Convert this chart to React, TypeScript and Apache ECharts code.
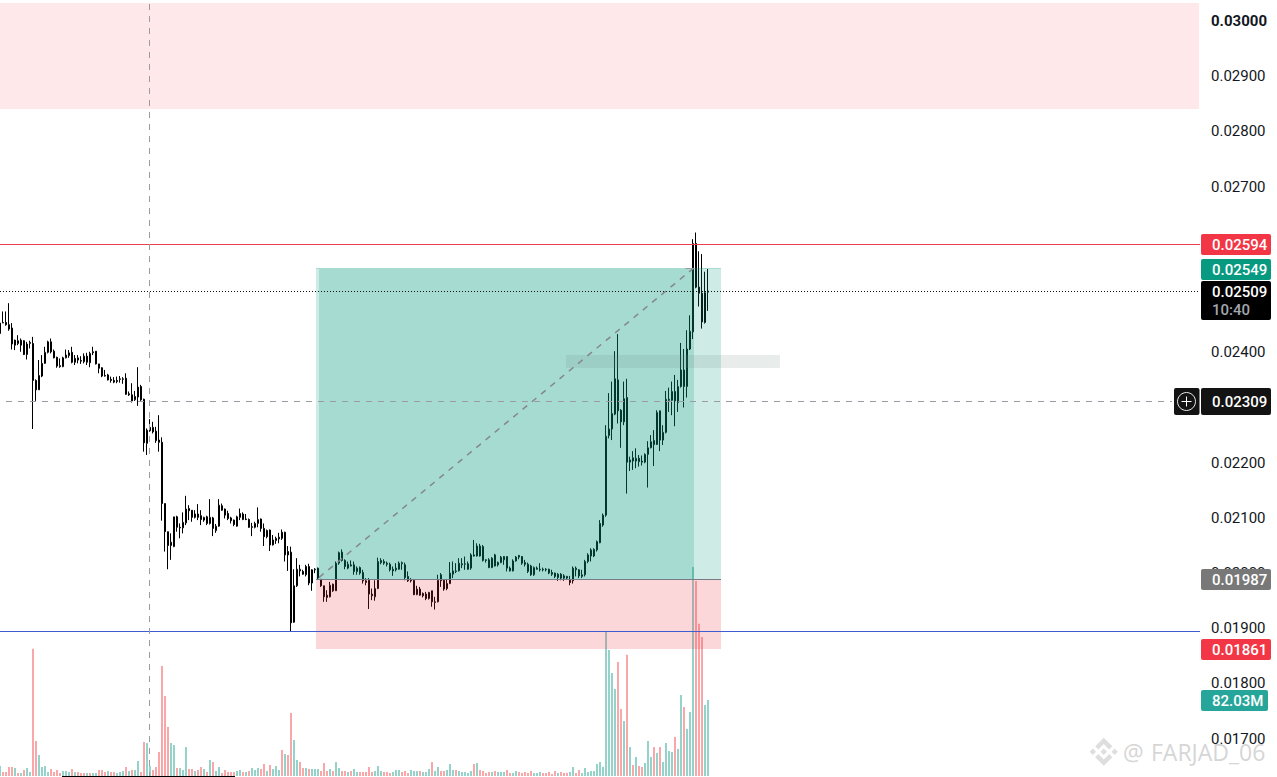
import React, { useEffect, useRef } from "react";
import * as echarts from "echarts";

// Prices in units of 0.00001
const opens = [
  2432,2451,2452,2448,2442,2420,2414,2420,2419,2394,
  2414,2414,2347,2330,2355,2378,2398,2417,2400,2389,
  2372,2372,2388,2392,2398,2387,2384,2383,2381,2391,
  2379,2397,2400,2377,2370,2356,2357,2349,2347,2347,
  2349,2349,2351,2323,2321,2312,2317,2336,2313,2233,
  2262,2262,2255,2239,2235,2124,2073,2048,2046,2100,
  2081,2080,2089,2115,2112,2099,2105,2102,2094,2100,
  2088,2098,2075,2083,2120,2114,2106,2098,2094,2083,
  2099,2095,2096,2095,2082,2081,2088,2096,2079,2075,
  2076,2049,2057,2060,2072,2072,2037,2036,1909,1975,
  2002,2001,1995,2010,1980,2004,2007,1987,1975,1958,
  1955,1978,1966,2016,2036,2021,2007,2011,2013,2007,
  2008,1999,1981,1985,1960,1955,1970,2021,2019,2016,
  2014,2005,2004,2005,2015,2013,1992,1985,1985,1959,
  1969,1961,1960,1952,1966,1946,1946,1995,1985,1979,
  1979,1996,2001,2002,2013,2014,2015,2007,2029,2047,
  2029,2046,2022,2022,2008,2031,2017,2017,2022,2028,
  2007,2002,2020,2027,2028,2017,2014,2011,1995,2005,
  2005,2005,2005,2005,1999,1998,1990,1996,1993,1992,
  1985,1984,2004,2004,1992,1995,2019,2029,2029,2040,
  2053,2085,2103,2247,2259,2286,2348,2293,2272,2316,
  2199,2201,2201,2206,2199,2199,2213,2225,2238,2231,
  2292,2239,2253,2311,2311,2327,2307,2336,2366,2336,
  2404,2435,2595,2516,2505,2452,2507,
];
const closes = [
  2451,2452,2448,2440,2413,2411,2419,2411,2394,2413,
  2416,2347,2330,2356,2378,2398,2417,2399,2388,2373,
  2374,2388,2393,2397,2380,2380,2388,2382,2391,2380,
  2396,2399,2377,2369,2355,2355,2348,2347,2344,2345,
  2350,2350,2322,2321,2310,2318,2335,2312,2234,2257,
  2256,2254,2238,2235,2124,2073,2048,2054,2100,2081,
  2080,2090,2114,2111,2099,2105,2099,2095,2099,2088,
  2099,2079,2083,2121,2112,2103,2097,2093,2086,2100,
  2106,2105,2095,2081,2081,2088,2095,2079,2064,2064,
  2049,2058,2061,2063,2061,2031,2031,1908,1975,2005,
  2005,1996,2010,1980,2004,2005,1989,1975,1955,1954,
  1976,1966,2016,2035,2021,2010,2014,2013,2001,2001,
  1998,1984,1984,1960,1957,1970,2019,2017,2016,2014,
  2004,2002,2007,2016,2017,1990,1984,1984,1959,1969,
  1958,1957,1952,1963,1946,1945,1985,1984,1969,1970,
  1998,2002,2002,2016,2015,2015,2005,2031,2031,2029,
  2047,2021,2021,2008,2025,2011,2013,2027,2028,2007,
  2002,2020,2027,2030,2016,2014,2001,1995,2008,2007,
  2004,2004,2004,1998,1996,1992,1996,1989,1989,1989,
  1981,2007,2007,1993,1995,2019,2031,2040,2041,2055,
  2088,2103,2246,2259,2287,2350,2292,2272,2314,2199,
  2203,2207,2206,2200,2201,2213,2225,2236,2231,2289,
  2239,2253,2313,2313,2327,2310,2336,2366,2336,2404,
  2436,2595,2516,2505,2453,2506,2509,
];
const lows = [
  2420,2451,2446,2437,2403,2402,2411,2399,2393,2385,
  2405,2259,2310,2330,2353,2377,2396,2396,2387,2370,
  2370,2371,2387,2388,2378,2375,2378,2377,2378,2375,
  2371,2393,2376,2360,2353,2354,2347,2343,2342,2342,
  2343,2341,2321,2319,2307,2310,2301,2310,2218,2212,
  2254,2251,2234,2218,2093,2037,2005,2022,2045,2073,
  2061,2070,2085,2094,2091,2097,2094,2085,2091,2085,
  2086,2065,2071,2082,2111,2097,2094,2088,2083,2082,
  2094,2094,2094,2080,2065,2079,2081,2073,2047,2061,
  2038,2048,2051,2052,2058,2019,2002,1892,1908,1973,
  1992,1995,1992,1976,1966,1998,1987,1973,1946,1946,
  1954,1964,1966,2013,2019,2005,2005,2010,1995,1995,
  1995,1979,1976,1933,1949,1948,1969,2014,2013,2010,
  2001,1993,2001,2004,2004,1985,1982,1981,1958,1958,
  1957,1954,1949,1950,1937,1932,1945,1973,1966,1967,
  1978,1989,1998,2001,2007,2004,2004,2004,2028,2028,
  2028,2019,2017,2007,2007,2010,2010,2016,2013,2001,
  2001,2001,2019,2023,2013,2010,1998,1993,1993,2004,
  2001,2001,2001,1996,1993,1989,1984,1985,1984,1987,
  1976,1979,1992,1989,1989,1992,2016,2019,2027,2037,
  2052,2082,2100,2242,2239,2284,2269,2225,2266,2142,
  2183,2185,2188,2191,2193,2197,2153,2224,2192,2230,
  2219,2230,2251,2290,2284,2264,2290,2334,2298,2316,
  2402,2422,2514,2481,2441,2450,2473,
];
const highs = [
  2460,2472,2472,2487,2451,2421,2429,2423,2420,2417,
  2419,2426,2349,2384,2393,2408,2419,2423,2403,2390,
  2387,2390,2403,2402,2408,2393,2393,2391,2396,2397,
  2399,2408,2400,2377,2371,2366,2359,2354,2353,2354,
  2355,2353,2360,2327,2342,2328,2371,2339,2314,2260,
  2277,2272,2263,2284,2244,2124,2073,2070,2100,2102,
  2088,2108,2138,2121,2112,2112,2123,2112,2100,2102,
  2132,2100,2087,2132,2124,2115,2111,2100,2095,2102,
  2115,2108,2105,2097,2089,2091,2117,2097,2088,2077,
  2077,2067,2064,2071,2077,2073,2047,2046,2005,2025,
  2013,2004,2013,2015,2005,2007,2008,1987,1975,1967,
  1982,1979,2019,2037,2041,2023,2019,2021,2019,2010,
  2010,2004,1989,1989,1970,1985,2026,2025,2023,2019,
  2017,2010,2016,2019,2019,2017,2001,1989,1987,1975,
  1973,1963,1964,1964,1966,1955,1995,1998,1987,1987,
  2018,2019,2016,2025,2025,2028,2019,2034,2058,2052,
  2051,2049,2023,2025,2027,2033,2019,2029,2029,2028,
  2010,2023,2029,2031,2029,2022,2017,2013,2010,2010,
  2016,2008,2007,2006,2004,1999,1998,1998,1996,1993,
  1993,2010,2010,2005,2004,2022,2034,2043,2043,2057,
  2094,2106,2266,2324,2345,2400,2431,2295,2345,2350,
  2209,2219,2224,2212,2211,2215,2237,2248,2257,2293,
  2292,2266,2328,2334,2345,2357,2348,2415,2404,2438,
  2465,2603,2615,2581,2576,2544,2549,
];
// Volume in millions
const volumes = [
  10.8,4.3,4.3,9.7,9.7,8.6,3.2,3.2,6.5,8.6,
  4.3,137.2,37.8,22.7,9.7,10.8,4.3,7.6,4.3,6.5,
  3.2,5.4,5.4,4.3,7.6,4.3,4.3,3.2,3.2,3.2,
  3.2,3.2,3.2,6.5,6.5,4.3,5.4,4.3,4.3,3.2,
  4.3,5.4,9.7,5.4,6.5,6.5,16.2,4.3,36.7,35.6,
  10.8,6.5,9.7,25.9,118.8,86.4,52.9,35.6,33.5,8.6,
  8.6,6.5,31.3,7.6,7.6,5.4,6.5,9.7,7.6,4.3,
  17.3,15.1,5.4,9.7,3.2,6.5,4.3,4.3,4.3,5.4,
  6.5,4.3,4.3,5.4,8.6,6.5,8.6,7.6,13,5.4,
  11.9,7.6,10.8,6.5,28.1,23.8,22.7,68,38.9,17.3,
  15.1,8.6,8.6,7.6,7.6,7.6,7.6,5.4,14,5.4,
  7.6,5.4,15.1,8.6,5.4,5.4,4.3,5.4,7.6,4.3,
  4.3,4.3,4.3,9.7,4.3,5.4,10.8,5.4,4.3,4.3,
  3.2,4.3,6.5,6.5,4.3,5.4,3.2,6.5,5.4,5.4,
  5.4,4.3,4.3,7.6,15.1,5.4,9.7,5.4,5.4,6.5,
  13,6.5,6.5,5.4,4.3,4.3,3.2,5.4,13,14,
  6.5,5.4,3.2,4.3,4.3,5.4,4.3,4.3,4.3,6.5,
  3.2,3.2,5.4,4.3,3.2,4.3,3.2,5.4,3.2,3.2,
  4.3,3.2,3.2,4.3,2.2,5.4,3.2,4.3,3.2,3.2,
  4.3,9.7,3.2,6.5,3.2,8.6,4.3,5.4,5.4,13,
  15.1,10,156.2,136,111.2,94,123,72.4,59.4,130.7,
  31.3,11.9,20.5,10.8,9.7,14,37.8,20.5,31.3,24.8,
  31.3,15.1,35.6,27,25.9,42.1,29.2,87.5,74.5,50.8,
  69.1,225.5,210.4,164.2,150.1,76.7,82.03,
];
// 1 = buying volume (teal), 0 = selling volume (red)
const volumeUp = [
  1,0,0,0,0,1,0,1,0,1,
  1,0,0,1,1,1,1,0,0,0,
  0,1,1,1,0,1,0,0,0,1,
  0,1,1,0,0,0,1,0,0,1,
  1,1,0,1,0,1,1,0,0,1,
  1,0,0,0,0,0,0,1,1,0,
  1,1,1,0,0,1,0,0,1,0,
  1,0,1,1,0,0,0,0,0,1,
  1,0,1,0,1,1,1,0,0,1,
  0,1,1,1,0,1,0,0,1,1,
  0,0,1,0,1,1,1,0,0,0,
  1,0,1,1,0,0,1,0,1,1,
  0,0,0,0,0,1,1,1,0,0,
  0,1,1,1,0,0,0,1,1,1,
  0,1,1,1,0,1,1,0,0,1,
  1,1,0,1,1,1,1,1,0,1,
  0,0,0,0,1,0,1,1,1,0,
  0,1,1,0,0,0,0,0,1,1,
  1,0,0,0,0,0,1,0,0,0,
  1,1,0,0,1,1,1,1,1,1,
  1,1,1,1,1,1,0,0,1,0,
  1,0,1,0,0,1,1,1,0,1,
  0,1,1,1,1,0,1,1,0,1,
  1,1,0,0,0,1,1,
];
const categories = Array.from({ length: 401 }, (_, i) => String(i));

// Position-tool zones: bar-index span and price span
const zoneStart = [0, 105.33, 106.33, 105.33, 188.67];
const zoneEnd = [399.67, 240.33, 231.33, 240.33, 260];
const zoneTop = [3031, 2549, 2549, 1987, 2393];
const zoneBottom = [2839, 1987, 1987, 1861, 2369.5];
const zoneFill = [
  "#fee8e9",
  "rgba(8,153,129,0.2)",
  "rgba(8,153,129,0.2)",
  "rgba(242,54,69,0.2)",
  "rgba(110,145,135,0.16)",
];

// Horizontal price levels
const levelPrices = [2594, 1892, 2509, 1987, 2549, 2550];
const levelStart = [0, 0, 0, 105.33, 105.33, 228.5];
const levelEnd = [400, 400, 400, 240.33, 240.33, 231.33];
const levelColor = ["#e8404c", "#3f5cd0", "#111111", "#787b86", "rgba(8,153,129,0.35)", "#9a9ca3"];
const levelDash: (number[] | undefined)[] = [undefined, undefined, [1, 2], undefined, undefined, undefined];

// Diagonal of the position tool
const diagonalX = [106.33, 231.33];
const diagonalP = [1990, 2551];

const crossX = 49.83;
const crossP = 2309;
const tickedAxisMin = 0.016;
const tickedAxisMax = 0.031;
// Round levels that sit behind a price tag or off the page
const hiddenTicks = [0.031, 0.026, 0.025, 0.023, 0.016];
const BINANCE =
  "M38.73 53.2L64 27.93l25.28 25.28 14.7-14.7L64-1.47 24.03 38.5zM-1.47 64l14.7-14.7L27.93 64l-14.7 14.7zM38.73 74.8L64 100.07l25.28-25.27 14.7 14.7L64 129.47 24.03 89.5zM100.07 64l14.7-14.7 14.7 14.7-14.7 14.7zM78.91 64L64 49.09 49.09 64 64 78.91z";

echarts.graphic.registerShape("binance", echarts.graphic.extendPath(BINANCE, {}) as any);

const px = (v: number) => v / 1e5;
const crisp = (v: number) => Math.floor(v) + 0.5;
const FONT = "Roboto";

function tag(top: number, height: number, fill: string, label: string, right = 1271) {
  return [
    { type: "rect", z: 200, shape: { x: 1201, y: top, width: right - 1201, height, r: 2 }, style: { fill } },
    {
      type: "text",
      z: 201,
      style: {
        x: 1212,
        y: top + height / 2 + 0.5,
        text: label,
        fill: "#ffffff",
        font: `500 15px ${FONT}`,
        verticalAlign: "middle",
        align: "left",
      },
    },
  ];
}

export default function App() {
  const ref = useRef<HTMLDivElement>(null);
  useEffect(() => {
    document.body.style.margin = "0";
    const chart = echarts.init(ref.current!, undefined, { renderer: "svg" });
    const candleData = opens.map((o, i) => [px(o), px(closes[i]), px(lows[i]), px(highs[i])]);
    const volumeData = volumes.map((v, i) => ({
      value: v,
      itemStyle: { color: volumeUp[i] ? "#93d3c9" : "#faa7a9" },
    }));
    const zoneRows = (idx: number[]) => idx.map((i) => [zoneStart[i], zoneEnd[i], px(zoneTop[i]), px(zoneBottom[i]), i]);
    const rectRender = (_: any, api: any) => {
      const a = api.coord([api.value(0), api.value(2)]);
      const b = api.coord([api.value(1), api.value(3)]);
      return {
        type: "rect",
        shape: {
          x: Math.round(a[0]),
          y: Math.round(a[1]),
          width: Math.round(b[0]) - Math.round(a[0]),
          height: Math.round(b[1]) - Math.round(a[1]),
        },
        style: { fill: zoneFill[api.value(4)] },
      };
    };
    const levelRows = levelPrices.map((p, i) => [levelStart[i], levelEnd[i], px(p), i]);
    const levelRender = (_: any, api: any) => {
      const i = api.value(3);
      const a = api.coord([api.value(0), api.value(2)]);
      const b = api.coord([api.value(1), api.value(2)]);
      const y = crisp(a[1]);
      return {
        type: "line",
        shape: { x1: a[0], y1: y, x2: b[0], y2: y },
        style: { stroke: levelColor[i], lineWidth: 1, lineDash: levelDash[i] },
      };
    };
    const customBase = {
      type: "custom",
      coordinateSystem: "cartesian2d",
      xAxisIndex: 1,
      yAxisIndex: 0,
      clip: false,
      silent: true,
      animation: false,
    };
    chart.setOption({
      animation: false,
      backgroundColor: "#ffffff",
      grid: { left: -1.5, top: -35.2, width: 1203, height: 828, containLabel: false, outerBoundsMode: "none" },
      xAxis: [
        { type: "category", data: categories, show: false, boundaryGap: true },
        { type: "value", min: -0.5, max: 400.5, show: false },
      ],
      yAxis: [
        {
          type: "value",
          position: "right",
          min: tickedAxisMin,
          max: tickedAxisMax,
          interval: 0.001,
          splitLine: { show: false },
          axisLine: { show: false },
          axisTick: { show: false },
          axisLabel: {
            margin: 9.5,
            fontFamily: FONT,
            fontSize: 15,
            color: "#131722",
            padding: [2, 0, 0, 0],
            formatter: (v: number) => {
              if (hiddenTicks.some((h) => Math.abs(v - h) < 1e-9)) return "";
              return Math.abs(v - 0.03) < 1e-9 ? "{b|" + v.toFixed(5) + "}" : v.toFixed(5);
            },
            rich: { b: { fontFamily: FONT, fontSize: 15, fontWeight: "bold", color: "#131722" } },
          },
        },
        { type: "value", min: -18.13, max: 875.3, show: false },
      ],
      series: [
        { ...customBase, name: "supply zone", z: 0, data: zoneRows([0]), renderItem: rectRender },
        {
          name: "Volume",
          type: "bar",
          xAxisIndex: 0,
          yAxisIndex: 1,
          barWidth: 2,
          z: 1,
          silent: true,
          data: volumeData,
        },
        {
          name: "Price",
          type: "candlestick",
          xAxisIndex: 0,
          yAxisIndex: 0,
          barWidth: 2,
          z: 2,
          silent: true,
          itemStyle: {
            color: "#ffffff",
            color0: "#000000",
            borderColor: "#000000",
            borderColor0: "#000000",
            borderWidth: 1,
          },
          data: candleData,
        },
        { ...customBase, name: "position zones", z: 3, data: zoneRows([1, 2, 3, 4]), renderItem: rectRender },
        { ...customBase, name: "levels", z: 4, data: levelRows, renderItem: levelRender },
        {
          ...customBase,
          name: "diagonal",
          z: 5,
          data: [[diagonalX[0], px(diagonalP[0]), diagonalX[1], px(diagonalP[1])]],
          renderItem: (_: any, api: any) => {
            const a = api.coord([api.value(0), api.value(1)]);
            const b = api.coord([api.value(2), api.value(3)]);
            return {
              type: "line",
              shape: { x1: a[0], y1: a[1], x2: b[0], y2: b[1] },
              style: { stroke: "#85878e", lineWidth: 1.5, lineDash: [6, 6] },
            };
          },
        },
        {
          ...customBase,
          name: "crosshair",
          z: 6,
          data: [[crossX, px(crossP)]],
          renderItem: (_: any, api: any) => {
            const c = api.coord([api.value(0), api.value(1)]);
            const x = crisp(c[0]);
            const y = crisp(c[1]);
            const style = { stroke: "#9b9ca3", lineWidth: 1, lineDash: [6, 6] };
            return {
              type: "group",
              children: [
                { type: "line", shape: { x1: x, y1: 4, x2: x, y2: 777 }, style },
                { type: "line", shape: { x1: 6, y1: y, x2: 1172, y2: y }, style },
              ],
            };
          },
        },
        {
          ...customBase,
          name: "baseline",
          z: 6,
          data: [[20.67, 78.33, px(1629.5)]],
          renderItem: (_: any, api: any) => {
            const a = api.coord([api.value(0), api.value(2)]);
            const b = api.coord([api.value(1), api.value(2)]);
            return {
              type: "line",
              shape: { x1: a[0], y1: 776.5, x2: b[0], y2: 776.5 },
              style: { stroke: "#000000", lineWidth: 1 },
            };
          },
        },
      ],
      graphic: [
        ...tag(234, 21, "#f23645", "0.02594"),
        ...tag(259, 21, "#089981", "0.02549"),
        { type: "rect", z: 200, shape: { x: 1201, y: 281, width: 70, height: 39, r: 2 }, style: { fill: "#000000" } },
        {
          type: "text",
          z: 201,
          style: { x: 1212, y: 291.5, text: "0.02509", fill: "#ffffff", font: `500 15px ${FONT}`, verticalAlign: "middle" },
        },
        {
          type: "text",
          z: 201,
          style: { x: 1212, y: 310, text: "10:40", fill: "#a3a6af", font: `500 15px ${FONT}`, verticalAlign: "middle" },
        },
        ...tag(388, 27, "#131313", "0.02309"),
        { type: "rect", z: 200, shape: { x: 1174, y: 388, width: 25.5, height: 27, r: 2 }, style: { fill: "#131313" } },
        { type: "circle", z: 201, shape: { cx: 1186.5, cy: 401.5, r: 9 }, style: { fill: "none", stroke: "#e8e8e8", lineWidth: 1 } },
        { type: "line", z: 201, shape: { x1: 1181.5, y1: 401.5, x2: 1191.5, y2: 401.5 }, style: { stroke: "#ffffff", lineWidth: 1 } },
        { type: "line", z: 201, shape: { x1: 1186.5, y1: 396.5, x2: 1186.5, y2: 406.5 }, style: { stroke: "#ffffff", lineWidth: 1 } },
        ...tag(569, 21, "#787878", "0.01987"),
        ...tag(639, 21, "#f23645", "0.01861"),
        ...tag(690, 21, "#26a69a", "82.03M", 1268),
        {
          type: "binance",
          z: 190,
          x: 1090,
          y: 738,
          scaleX: 0.215,
          scaleY: 0.215,
          style: { fill: "#dedede" },
        },
        {
          type: "text",
          z: 190,
          style: { x: 1123, y: 752, text: "@", fill: "#d6d6d6", font: `23px "Open Sans"`, verticalAlign: "middle" },
        },
        {
          type: "text",
          z: 190,
          style: { x: 1151, y: 752, text: "FARJAD_06", fill: "#d6d6d6", font: `23px "Open Sans"`, verticalAlign: "middle" },
        },
      ],
    });
    return () => chart.dispose();
  }, []);
  return <div ref={ref} style={{ position: "fixed", left: 0, top: 0, width: 1277, height: 777 }} />;
}
